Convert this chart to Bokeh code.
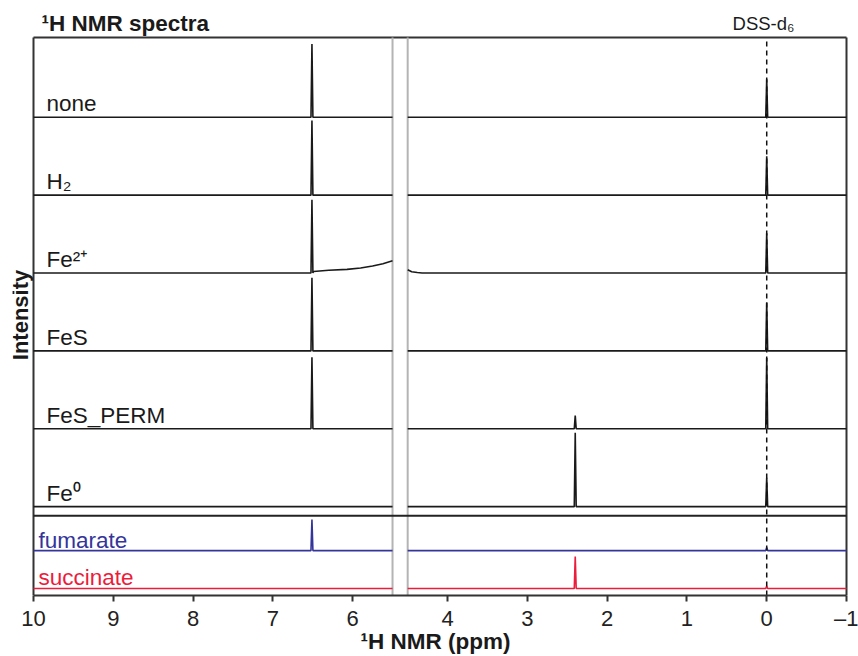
import numpy as np
from bokeh.plotting import figure
from bokeh.models import Range1d, Label, FixedTicker, CustomJSTickFormatter, ColumnDataSource
from bokeh.embed import file_html
from bokeh.resources import INLINE

# ---------------- data ----------------
row_names = ["none", "H\u2082", "Fe\u00b2\u207a", "FeS", "FeS_PERM", "Fe\u2070"]
fumarate_ppm = 6.51
succinate_ppm = 2.40
dss_ppm = 0.0
# peak heights as fraction of one row height
fumarate_h = [0.94, 0.96, 0.94, 0.94, 0.92, 0.0]
succinate_h = [0.0, 0.0, 0.0, 0.0, 0.17, 0.95]
dss_h = [0.49, 0.50, 0.51, 0.62, 0.91, 0.37]
# broad water-tail background in the Fe2+ spectrum
fe2_bg_ppm = [6.49, 6.30, 6.07, 5.90, 5.75, 5.62, 5.50, 4.50, 4.45, 4.38, 4.32]
fe2_bg_int = [0.02, 0.035, 0.047, 0.065, 0.09, 0.12, 0.158, 0.042, 0.017, 0.006, 0.0]
# reference standards
std_names = ["fumarate", "succinate"]
std_peak_ppm = [6.51, 2.40]
std_peak_h = [0.40, 0.41]
std_dss_h = [0.04, 0.03]
tick_ppm = [10, 9, 8, 7, 6, 4, 3, 2, 1, 0, -1]

# ---------------- layout / styles ----------------
FONT = "Liberation Sans"
INK = "#1a1a1a"
BLUE = "#34359a"
RED = "#ec1c3c"
BREAK_HI, BREAK_LO = 5.5, 4.5
GAP = 0.19
SHIFT = (BREAK_HI - BREAK_LO) - GAP
ROW = 78.0                      # px per row unit
BOX_L, BOX_R, BOX_T, BOX_B = 33.0, 846.0, 37.0, 596.0
FRAME_L = 12.0
W, H = 858, 656
FE0_BASE = 89.0 / ROW
SEP_Y = 80.0 / ROW
STD_BASE = [45.0 / ROW, 7.0 / ROW]


def to_u(ppm):
    return ppm if ppm >= BREAK_HI - 1e-9 else ppm + SHIFT


U_L, U_R = 10.0, to_u(-1.0)
K = (BOX_R - BOX_L) / (U_L - U_R)    # px per unit


def px_to_u(px):
    return U_L - (px - BOX_L) / K


def py_to_y(py):
    return (BOX_B - py) / ROW


def build(peaks, bg=None):
    segs = []
    for lo, hi in [(BREAK_HI, 10.0), (-1.0, BREAK_LO)]:
        pts = {hi: 0.0, lo: 0.0}
        if bg is not None:
            for x, y in zip(*bg):
                if lo <= x <= hi:
                    pts[x] = y
        for pk, h in peaks:
            if h > 0 and lo < pk < hi:
                pts[pk + 0.012] = 0.0
                pts[pk] = h
                pts[pk - 0.012] = 0.0
        xs = sorted(pts.keys(), reverse=True)
        segs.append(([to_u(x) for x in xs], [pts[x] for x in xs]))
    return segs


p = figure(width=W, height=H, output_backend="svg", toolbar_location=None,
           x_range=Range1d(px_to_u(FRAME_L), px_to_u(W)),
           y_range=Range1d(0, py_to_y(0)),
           min_border_left=int(FRAME_L), min_border_right=0, min_border_top=0,
           min_border_bottom=int(H - BOX_B))
p.background_fill_color = "white"
p.border_fill_color = "white"
p.outline_line_color = None
p.xgrid.visible = False
p.ygrid.visible = False
p.yaxis.visible = False

y_top = py_to_y(BOX_T)

# box edges, break band, separator
p.segment(x0=[U_L, U_R, U_L], y0=[0, 0, y_top], x1=[U_L, U_R, U_R], y1=[y_top, y_top, y_top],
          line_color="#333333", line_width=2)
p.segment(x0=[BREAK_HI, to_u(BREAK_LO)], y0=[0, 0], x1=[BREAK_HI, to_u(BREAK_LO)], y1=[y_top, y_top],
          line_color="#b4b4b4", line_width=2)
p.segment(x0=[U_L], y0=[SEP_Y], x1=[U_R], y1=[SEP_Y], line_color="#222222", line_width=2)

xs_all, ys_all, cols = [], [], []
n = len(row_names)
for i in range(n):
    base = FE0_BASE + (n - 1 - i)
    bg = (fe2_bg_ppm, fe2_bg_int) if i == 2 else None
    peaks = [(fumarate_ppm, fumarate_h[i]), (succinate_ppm, succinate_h[i]), (dss_ppm, dss_h[i])]
    for sx, sy in build(peaks, bg):
        xs_all.append(sx)
        ys_all.append([base + v for v in sy])
        cols.append(INK)

std_cols = [BLUE, RED]
for j in range(2):
    base = STD_BASE[j]
    peaks = [(std_peak_ppm[j], std_peak_h[j]), (dss_ppm, std_dss_h[j])]
    for sx, sy in build(peaks):
        xs_all.append(sx)
        ys_all.append([base + v for v in sy])
        cols.append(std_cols[j])

src = ColumnDataSource(dict(xs=xs_all, ys=ys_all, color=cols))
p.multi_line("xs", "ys", source=src, line_color="color", line_width=1.6)

# DSS reference dashed line
p.segment(x0=[to_u(dss_ppm)], y0=[0], x1=[to_u(dss_ppm)], y1=[y_top], line_color="#111111",
          line_width=1.5, line_dash="5 4")

# axis
ax = p.xaxis[0]
ax.bounds = (U_R, U_L)
ax.ticker = FixedTicker(ticks=[to_u(t) for t in tick_ppm])
ax.formatter = CustomJSTickFormatter(args=dict(shift=SHIFT), code="""
const v = tick > 5.4 ? tick : tick - shift;
const r = Math.round(v);
return r < 0 ? "\u2013" + (-r) : "" + r;
""")
ax.minor_tick_line_color = None
ax.major_tick_in = 0
ax.major_tick_out = 6
ax.major_tick_line_width = 2
ax.major_tick_line_color = "#333333"
ax.axis_line_color = "#333333"
ax.axis_line_width = 2
ax.major_label_text_font = FONT
ax.major_label_text_font_size = "22px"
ax.major_label_text_color = "#222222"
ax.major_label_standoff = 4
ax.axis_label = "\u00b9H NMR (ppm)"
ax.axis_label_text_font = FONT
ax.axis_label_text_font_size = "22.5px"
ax.axis_label_text_font_style = "bold"
ax.axis_label_text_color = INK
ax.axis_label_standoff = -5


def lab(x_px, bottom_py, text, size, **kw):
    p.add_layout(Label(x=px_to_u(x_px), y=py_to_y(bottom_py), text=text, text_font=FONT,
                       text_font_size=size, text_baseline="bottom", **kw))


# row labels (bottom of text box = baseline + descent)
for i in range(n):
    base_py = BOX_B - (FE0_BASE + (n - 1 - i)) * ROW
    lab(46, base_py - 1, row_names[i], "22.5px", text_color=INK)
std_bottom = [2.0, 1.0]
for j in range(2):
    base_py = BOX_B - STD_BASE[j] * ROW
    lab(38, base_py + std_bottom[j], std_names[j], "22.5px", text_color=std_cols[j])

lab(41, 36, "\u00b9H NMR spectra", "22.5px", text_font_style="bold", text_color=INK)
lab(763, 33.5, "DSS-d\u2086", "18.5px", text_align="center", text_color=INK)
p.add_layout(Label(x=px_to_u(32.5), y=py_to_y(315), text="Intensity", text_font=FONT,
                   text_font_size="22px", text_font_style="bold", text_align="center",
                   text_baseline="bottom", angle=np.pi / 2, text_color=INK))

open("out.html", "w").write(file_html(p, INLINE))
